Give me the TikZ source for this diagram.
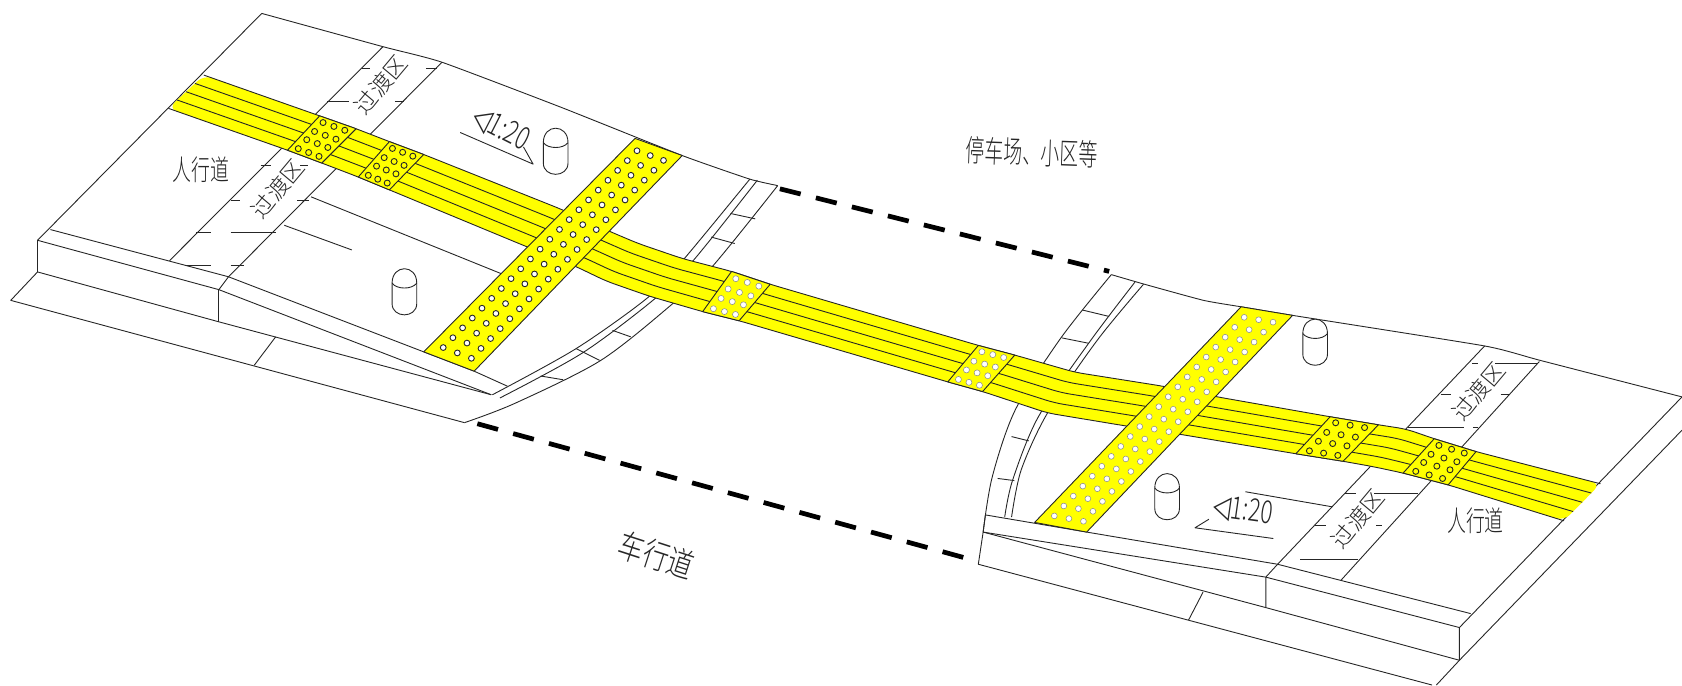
\documentclass[tikz,border=0pt]{standalone}
\usepackage{fontspec}
\usepackage{graphicx}
\usepackage{tikz}
\usetikzlibrary{calc}
\newfontfamily\cjk{Noto Sans CJK SC Light}
\newfontfamily\symfont{DejaVu Sans}
\definecolor{padyellow}{RGB}{255,255,0}
\newcommand{\tallfont}[2]{\scalebox{1}[#1]{#2}}
\tikzstyle{linework}=[draw=black!85, line width=0.42pt, line join=round]
\tikzstyle{padedge}=[linework, fill=padyellow]
\tikzstyle{ringhole}=[draw=black!85, line width=0.42pt, fill=padyellow]
\tikzstyle{whiteHole}=[draw=black!85, line width=0.42pt, fill=white]
\tikzstyle{paleHole}=[draw=black!45, line width=0.25pt, fill=white]
\tikzstyle{gapline}=[draw=black, line width=2.2pt, dash pattern=on 10pt off 7.3pt]
\tikzstyle{caption}=[font=\cjk\fontsize{8.8}{10}\selectfont, text=black!85, inner sep=0pt]
\tikzstyle{zonetext}=[caption, rotate=50, font=\cjk\fontsize{10.5}{11}\selectfont]
\tikzstyle{slopetext}=[caption, font=\cjk\fontsize{10.5}{11}\selectfont]
\tikzset{bollard/.pic={
    \draw[linework, fill=white] (-11.5,-8) .. controls (-11.5,-26) and (11.5,-26) .. (11.5,-8) -- (11.5,11)
        .. controls (11.5,25) and (-11.5,25) .. (-11.5,11) -- cycle;
    \draw[linework] (-11.5,-8) .. controls (-7,-2) and (7,-2) .. (11.5,-8);
}}
\newcommand{\tactilepad}[5]{
    \draw[padedge] #1 -- #2 -- #3 -- #4 -- cycle;
    \foreach \u in {.2,.5,.8}
        \foreach \v in {.12,.38,.62,.88}
            \draw[#5] ($($#1!\u!#2$)!\v!($#4!\u!#3$)$) circle (2.8);
}
\newcommand{\crossingpad}[5]{
    \draw[padedge] #1 -- #2 -- #3 -- #4 -- cycle;
    \foreach \u in {.22,.5,.78}
        \foreach \n in {0,...,20} {
            \pgfmathsetmacro{\r}{.04+.92*\n/20}
            \draw[#5] ($($#1!\u!#2$)!\r!($#4!\u!#3$)$) circle (2.7);
        }
}
\begin{document}
\begin{tikzpicture}[x=0.5pt, y=-0.5pt]
    \useasboundingbox (0,0) rectangle (1568,638.6);

    % left kerb block
    \draw[linework] plot[smooth, tension=.3] coordinates {(244,12.5) (357,43.5) (412,58) (523,100) (636,145) (699,167) (725,173)};
    \draw[linework] (244,12.5) -- (35,224) -- (35,253.5) -- (10,280) -- (433,394);
    \draw[linework] (47,214) -- (213,258) -- (204,270) -- (35,224);
    \draw[linework] (204,270) -- (204,300);
    \draw[linework] (35,253.5) -- (204,300) -- (458,368);
    \draw[linework] (257,314) -- (237,340.5);
    \draw[linework] (213,258) -- (395,328) -- (442,346) -- (473,360);
    \draw[linework] (204,270) -- (458,368);
    \draw[linework] (357,43.5) -- (158,243);
    \draw[linework] (412,58) -- (213,258);
    \foreach \ya/\xa/\xb/\xc/\xd in {64/337/345/397/407, 95/305/325/368/377, 154.6/243/253/280/287, 186.6/215/224/277/288, 216.8/183/197/215/257, 247/173/197/215/227} {
        \draw[linework] (\xa,\ya) -- (\xb,\ya);
        \draw[linework] (\xc,\ya) -- (\xd,\ya);
    }
    \draw[linework] (290,183.5) -- (467,255);
    \draw[linework] (265,210) -- (328,233);
    \draw[linework] (429,123.5) -- (497,153) -- (488,137);

    % left kerb arcs
    \draw[linework] plot[smooth] coordinates {(699,167) (638,241) (605,276.5) (537,325) (459,368)};
    \draw[linework] plot[smooth] coordinates {(706,168) (647,242) (611,278) (543,329) (466,371)};
    \draw[linework] plot[smooth] coordinates {(725,173) (664,248.5) (626,284) (560,336) (480,376) (433,394)};
    \draw[linework] (681,199) -- (704,204);
    \draw[linework] (663,221) -- (685,227);
    \draw[linework] (571,308) -- (588,314);
    \draw[linework] (537,325) -- (559,336);
    \draw[linework] (504,350.5) -- (525,354);

    % right kerb block
    \draw[linework] plot[smooth, tension=.3] coordinates {(1036,256) (1067,265) (1122,280) (1157,286) (1205,294) (1384,322.5) (1436,336) (1568,370)};
    \draw[linework] (1568,370) -- (1360.5,585) -- (1360.5,615.5) -- (1568,401);
    \draw[linework] (1360.5,615.5) -- (1339,638.6);
    \draw[linework] (916.5,496) -- (912,526) -- (1335,638.6);
    \draw[linework] (918.6,480) -- (916.5,496) -- (1180,538) -- (1360.5,585);
    \draw[linework] (918.6,480) -- (1013,496) -- (1191,526) -- (1371,572);
    \draw[linework] (1191,526) -- (1180,538) -- (1180,566.4) -- (1360.5,615.5);
    \draw[linework] (916.5,496) -- (1180,566.4);
    \draw[linework] (1121.5,552) -- (1108,578);
    \draw[linework] (1384,322.5) -- (1191,526);
    \draw[linework] (1435,337) -- (1250,541);
    \foreach \ya/\xa/\xb/\xc/\xd in {338.7/1372/1378/1394/1434, 368/1343/1353/1399/1408, 398.7/1313/1365/1373/1378, 460/1254/1264/1281/1322, 490/1226/1236/1283/1288} {
        \draw[linework] (\xa,\ya) -- (\xb,\ya);
        \draw[linework] (\xc,\ya) -- (\xd,\ya);
    }
    \draw[linework] (1212,521.3) -- (1266,521.3);
    \draw[linework] (1161,458.4) -- (1241.6,472.4);
    \draw[linework] (1187,502) -- (1114,492) -- (1127,484);

    % right kerb arcs
    \draw[linework] plot[smooth] coordinates {(1036,256) (989,315) (946.5,382) (925,444.5) (916.5,496)};
    \draw[linework] plot[smooth] coordinates {(1058,263) (1017,317) (968,388.5) (944,447.5) (936.6,482)};
    \draw[linework] plot[smooth] coordinates {(1066,265) (1023,317) (976.5,385) (952,438) (943,482)};
    \draw[linework] (1009,289) -- (1034,295);
    \draw[linework] (990,315) -- (1015,320);
    \draw[linework] (943,407) -- (959,411);
    \draw[linework] (930,446) -- (945.6,448);

    % main guide strip
    \foreach \i/\tx/\ty/\bx/\by in {1/190/70/157/101, 2/298/108/268/140, 3/332/120/300/152, 4/363/132/334/165,
        5/395/144/363/177, 6/523/195/491/230, 7/569/216/537/248.5, 8/595/227/565/262, 9/636/241/605/276,
        10/682/253/655/290.5, 11/718/265/689/299, 12/912/322/883.5/356, 13/946/331/916/365, 14/1002/347/976.5/385,
        15/1084/360/1049/397, 16/1135/370/1101/405, 17/1240/388.5/1208/423, 18/1285/396/1252/430,
        19/1311/400/1280/435, 20/1337/409/1308/441, 21/1376/421/1350/452, 22/1492/451/1458/485.5} {
        \coordinate (t\i) at (\tx,\ty);
        \coordinate (b\i) at (\bx,\by);
    }
    \fill[padyellow, rounded corners=4pt] (t1) \foreach \i in {2,...,22}{ -- (t\i)} \foreach \i in {22,21,...,1}{ -- (b\i)} -- cycle;
    \foreach \f in {0,.25,.5,.75,1}
        \draw[linework, rounded corners=4pt] ($(t1)!\f!(b1)$) \foreach \i in {2,...,22}{ -- ($(t\i)!\f!(b\i)$)};

    % pads and crossings
    \tactilepad{(298,108)}{(332,120)}{(300,152)}{(268,140)}{ringhole}
    \tactilepad{(363,132)}{(395,144)}{(363,177)}{(334,165)}{ringhole}
    \tactilepad{(682,253)}{(718,265)}{(689,299)}{(655,290.5)}{paleHole}
    \tactilepad{(912,322)}{(946,331)}{(916,365)}{(883.5,356)}{paleHole}
    \tactilepad{(1240,388.5)}{(1285,396)}{(1252,430)}{(1208,423)}{ringhole}
    \tactilepad{(1337,409)}{(1376,421)}{(1350,452)}{(1308,441)}{ringhole}
    \crossingpad{(395,328)}{(442,346)}{(636,145)}{(592,129)}{whiteHole}
    \crossingpad{(964.5,487)}{(1013,496)}{(1205,294)}{(1157,286)}{paleHole}

    % bollards
    \pic at (377,272) {bollard};
    \pic at (518,141) {bollard};
    \pic at (1226,319) {bollard};
    \pic at (1088,463) {bollard};

    % gaps across the carriageway
    \coordinate (gapA1) at (727,176);
    \coordinate (gapA2) at (1034,253);
    \coordinate (gapB1) at (445,395);
    \coordinate (gapB2) at (903,521);
    \draw[gapline] (gapA1) -- (gapA2);
    \draw[gapline] (gapB1) -- (gapB2);

    % labels
    \node (walkL) [caption] at (187,158.6) {\tallfont{1.5}{人行道}};
    \node (walkR) [caption] at (1375.5,485) {\tallfont{1.5}{人行道}};
    \node (zoneA) [zonetext] at (355,79) {过渡区};
    \node (zoneB) [zonetext] at (259,176) {过渡区};
    \node (zoneC) [zonetext] at (1378,365) {过渡区};
    \node (zoneD) [zonetext] at (1266,483.5) {过渡区};
    \node (slopeL) [slopetext, rotate=-27] at (467,120) {\tallfont{1.4}{{\symfont ◁}1:20}};
    \node (slopeR) [slopetext, rotate=-8] at (1159,476) {\tallfont{1.4}{{\symfont ◁}1:20}};
    \node (parking) [caption, rotate=-2] at (962,142) {\tallfont{1.6}{停车场、小区等}};
    \node (road) [caption, rotate=-18, font=\cjk\fontsize{12}{13}\selectfont] at (612,518) {\tallfont{1.3}{车行道}};
\end{tikzpicture}
\end{document}
